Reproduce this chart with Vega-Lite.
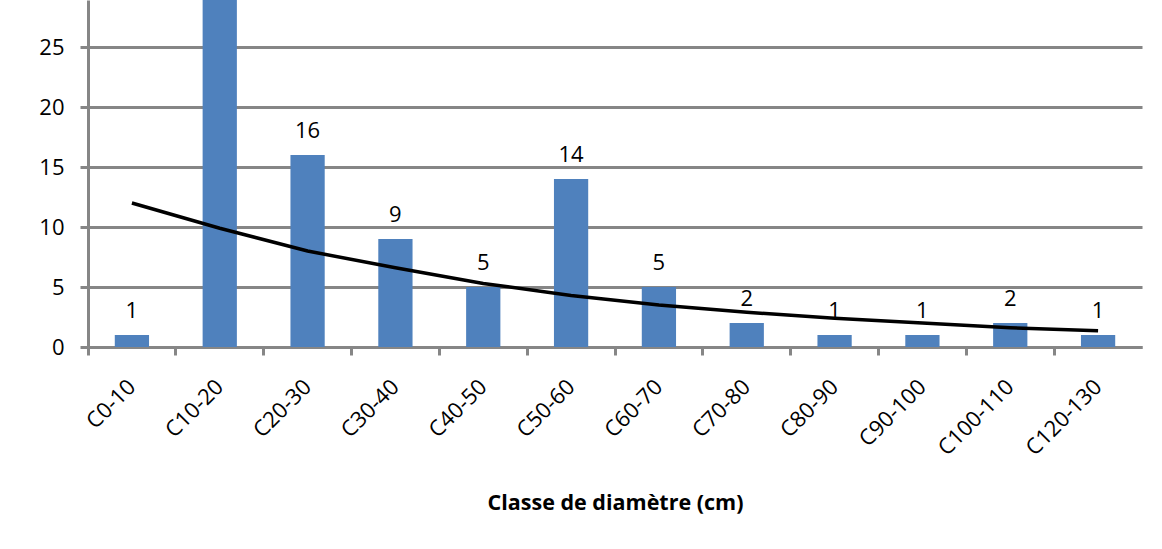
{
  "$schema": "https://vega.github.io/schema/vega-lite/v6.json",
  "width": 1054,
  "height": 347,
  "autosize": "none",
  "padding": {"left": 88, "top": 0, "right": 20, "bottom": 202},
  "background": "white",
  "config": {"view": {"stroke": null}, "font": "Open Sans"},
  "data": {"values": [
    {"classe": "C0-10", "n": 1, "trend": 12.0},
    {"classe": "C10-20", "n": 31, "trend": 9.9},
    {"classe": "C20-30", "n": 16, "trend": 8.0},
    {"classe": "C30-40", "n": 9, "trend": 6.6},
    {"classe": "C40-50", "n": 5, "trend": 5.3},
    {"classe": "C50-60", "n": 14, "trend": 4.3},
    {"classe": "C60-70", "n": 5, "trend": 3.5},
    {"classe": "C70-80", "n": 2, "trend": 2.9},
    {"classe": "C80-90", "n": 1, "trend": 2.4},
    {"classe": "C90-100", "n": 1, "trend": 2.0},
    {"classe": "C100-110", "n": 2, "trend": 1.6},
    {"classe": "C120-130", "n": 1, "trend": 1.35}
  ]},
  "encoding": {
    "x": {
      "field": "classe", "type": "nominal", "sort": null,
      "scale": {"paddingInner": 0, "paddingOuter": 0},
      "axis": {
        "title": "Classe de diamètre (cm)",
        "titleFontSize": 21.5, "titleFontWeight": "bold", "titleColor": "black", "titlePadding": 34,
        "labelAngle": -45, "labelAlign": "right", "labelBaseline": "middle",
        "labelFontSize": 22, "labelColor": "black", "labelPadding": 28, "labelOverlap": false, "labelFlush": false,
        "domainColor": "#868686", "domainWidth": 3,
        "ticks": true, "tickColor": "#868686", "tickWidth": 3, "tickSize": 8, "bandPosition": 0,
        "grid": false
      }
    }
  },
  "layer": [
    {
      "mark": {"type": "bar", "color": "#4F81BD", "width": {"band": 0.39}, "clip": true},
      "encoding": {
        "y": {
          "field": "n", "type": "quantitative",
          "scale": {"domain": [0, 28.92], "nice": false, "zero": true},
          "axis": {
            "title": null, "values": [0, 5, 10, 15, 20, 25],
            "labelFontSize": 22, "labelColor": "black", "labelPadding": 16,
            "domainColor": "#868686", "domainWidth": 3,
            "tickColor": "#868686", "tickWidth": 3, "tickSize": 8,
            "grid": true, "gridColor": "#868686", "gridWidth": 3
          }
        }
      }
    },
    {
      "transform": [{"filter": "datum.n < 28"}],
      "mark": {"type": "text", "baseline": "alphabetic", "dy": -17, "fontSize": 22, "color": "black"},
      "encoding": {
        "y": {"field": "n", "type": "quantitative"},
        "text": {"field": "n", "type": "quantitative"}
      }
    },
    {
      "mark": {"type": "line", "color": "black", "strokeWidth": 3.5},
      "encoding": {
        "y": {"field": "trend", "type": "quantitative"}
      }
    }
  ]
}
